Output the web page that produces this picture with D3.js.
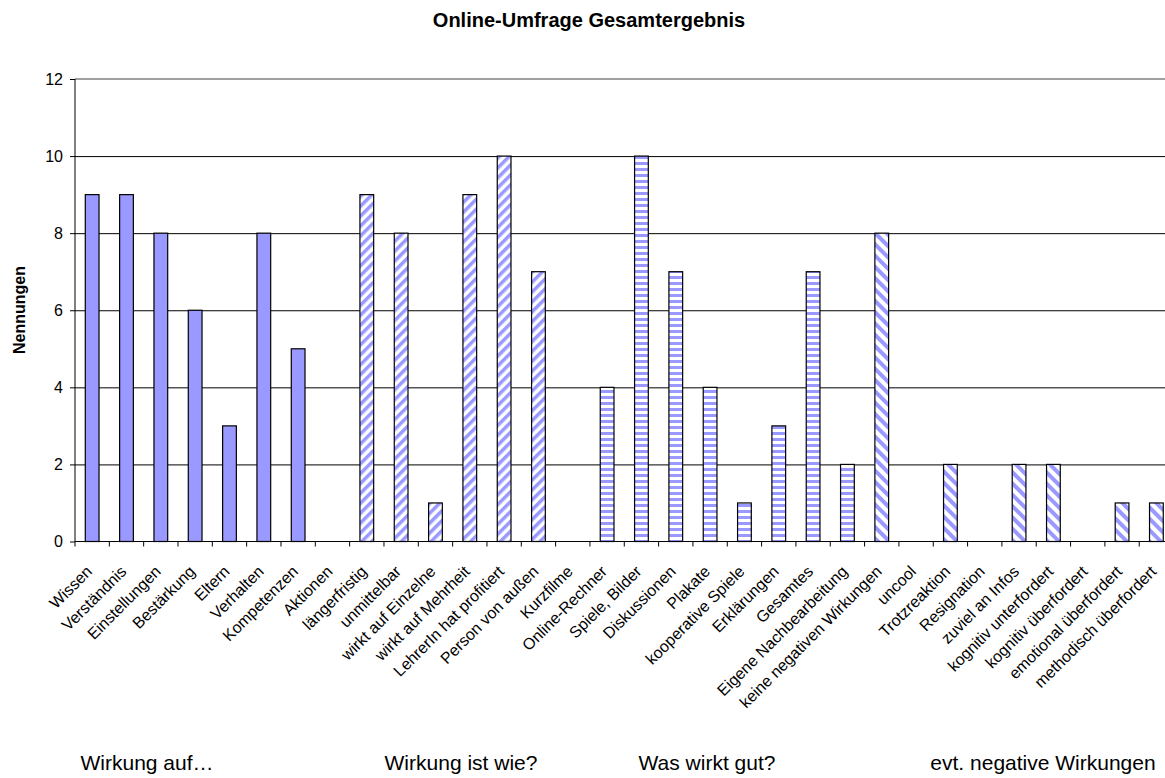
<!DOCTYPE html>
<html>
<head>
<meta charset="utf-8">
<script src="https://cdn.jsdelivr.net/npm/d3@7"></script>
<style>
  body { margin: 0; background: #fff; }
  svg { font-family: "Liberation Sans", Arial, sans-serif; display: block; }
</style>
</head>
<body>
<svg id="chart" width="1165" height="778"></svg>
<script>
// data
var categories = ["Wissen", "Verständnis", "Einstellungen", "Bestärkung", "Eltern", "Verhalten",
  "Kompetenzen", "Aktionen", "längerfristig", "unmittelbar", "wirkt auf Einzelne",
  "wirkt auf Mehrheit", "LehrerIn hat profitiert", "Person von außen", "Kurzfilme",
  "Online-Rechner", "Spiele, Bilder", "Diskussionen", "Plakate", "kooperative Spiele",
  "Erklärungen", "Gesamtes", "Eigene Nachbearbeitung", "keine negativen Wirkungen", "uncool",
  "Trotzreaktion", "Resignation", "zuviel an Infos", "kognitiv unterfordert",
  "kognitiv überfordert", "emotional überfordert", "methodisch überfordert"];
var values = [9, 9, 8, 6, 3, 8, 5, 0, 9, 8, 1, 9, 10, 7, 0, 4, 10, 7, 4, 1, 3, 7, 2, 8, 0, 2, 0, 2, 2, 0, 1, 1];
var groupNames = ["Wirkung auf…", "Wirkung ist wie?", "Was wirkt gut?", "evt. negative Wirkungen"];
var groupSizes = [8, 6, 9, 9];
var yTicks = [0, 2, 4, 6, 8, 10, 12];
var title = "Online-Umfrage Gesamtergebnis";
var yTitle = "Nennungen";

var svg = d3.select("#chart");
var plotLeft = 75, plotTop = 79, plotBottom = 541.5, step = 34.33;
var plotRight = plotLeft + step * categories.length;

var x = d3.scaleBand()
    .domain(categories)
    .range([plotLeft, plotRight])
    .paddingInner(0.6)
    .paddingOuter(0.3);

var y = d3.scaleLinear()
    .domain([0, 12])
    .range([plotBottom, plotTop]);

// which group each category belongs to
var groupOf = [];
groupSizes.forEach(function(n, g) { for (var i = 0; i < n; i++) groupOf.push(g); });

// fill patterns
var defs = svg.append("defs");
function stripes(id, size, angle) {
  var p = defs.append("pattern")
      .attr("id", id)
      .attr("patternUnits", "userSpaceOnUse")
      .attr("width", size)
      .attr("height", size)
      .attr("patternTransform", "rotate(" + angle + ")");
  p.append("rect").attr("width", size).attr("height", size).attr("fill", "#fff");
  p.append("rect").attr("width", size).attr("height", size / 2).attr("fill", "#9999ff");
}
stripes("diagUp", 7, -45);
stripes("horiz", 6, 0);
stripes("diagDown", 8, 45);
var fills = ["#9999ff", "url(#diagUp)", "url(#horiz)", "url(#diagDown)"];

// gridlines
svg.append("g")
    .attr("transform", "translate(" + plotLeft + ",0)")
    .call(d3.axisLeft(y).tickValues(yTicks.slice(1, -1)).tickSize(-(plotRight - plotLeft)).tickFormat(""))
    .call(function(g) { g.select(".domain").remove(); })
    .selectAll("line").attr("stroke", "#000");

svg.append("line")
    .attr("x1", plotLeft).attr("x2", plotRight)
    .attr("y1", y(12)).attr("y2", y(12))
    .attr("stroke", "#a0a0a0")
    .attr("stroke-width", 2);

// bars
svg.append("g")
    .selectAll("rect")
    .data(values)
    .enter()
    .append("rect")
    .attr("x", function(d, i) { return x(categories[i]); })
    .attr("y", function(d) { return y(d); })
    .attr("width", x.bandwidth())
    .attr("height", function(d) { return y(0) - y(d); })
    .attr("fill", function(d, i) { return fills[groupOf[i]]; })
    .attr("stroke", "#000")
    .attr("stroke-width", 1.2)
    .style("display", function(d) { return d > 0 ? null : "none"; });

// y axis
var yAxis = svg.append("g")
    .attr("transform", "translate(" + plotLeft + ",0)")
    .call(d3.axisLeft(y).tickValues(yTicks).tickSize(5).tickPadding(7));
yAxis.select(".domain").attr("stroke", "#000").attr("d", "M0," + y(12) + "V" + y(0));
yAxis.selectAll("text").style("font-size", "16px").attr("fill", "#000");

// x axis: labels from the axis, ticks at category borders
var xAxis = svg.append("g")
    .attr("transform", "translate(0," + plotBottom + ")")
    .call(d3.axisBottom(x).tickSize(0));
xAxis.select(".domain").attr("stroke", "#000").attr("d", "M" + plotLeft + ",0H" + plotRight);
xAxis.selectAll(".tick text")
    .style("font-size", "16px")
    .attr("fill", "#000")
    .attr("text-anchor", "end")
    .attr("x", 0)
    .attr("y", 0)
    .attr("dy", 0)
    .attr("transform", "translate(1,31) rotate(-45)");

xAxis.selectAll("line.border")
    .data(d3.range(categories.length + 1))
    .enter()
    .append("line")
    .attr("class", "border")
    .attr("x1", function(i) { return plotLeft + i * x.step(); })
    .attr("x2", function(i) { return plotLeft + i * x.step(); })
    .attr("y1", 0)
    .attr("y2", 5)
    .attr("stroke", "#000");

// titles
svg.append("text")
    .attr("x", 589)
    .attr("y", 27)
    .attr("text-anchor", "middle")
    .style("font-size", "20px")
    .style("font-weight", "bold")
    .text(title);

svg.append("text")
    .attr("transform", "translate(25,310) rotate(-90)")
    .attr("text-anchor", "middle")
    .style("font-size", "16px")
    .style("font-weight", "bold")
    .text(yTitle);

// group captions under the axis
var groupX = [147, 461, 707, 1043];
svg.append("g")
    .selectAll("text")
    .data(groupNames)
    .enter()
    .append("text")
    .attr("x", function(d, i) { return groupX[i]; })
    .attr("y", 770)
    .attr("text-anchor", "middle")
    .style("font-size", "21px")
    .text(function(d) { return d; });
</script>
</body>
</html>
